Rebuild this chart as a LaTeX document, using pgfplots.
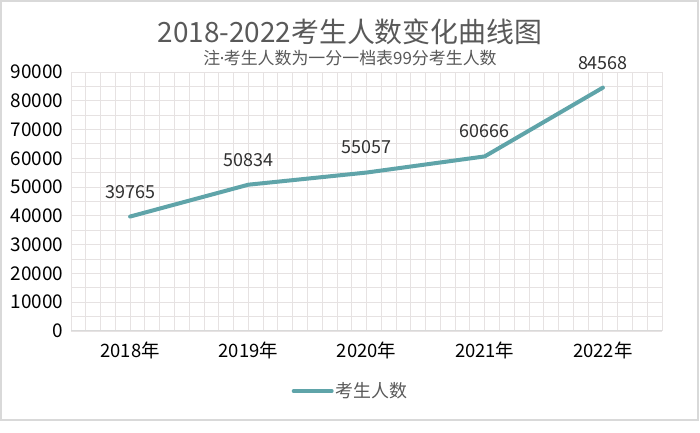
\documentclass[border=0pt]{standalone}
\usepackage{pgfplots}
\pgfplotsset{compat=1.18}
\usepackage{fontspec}
\setmainfont{Noto Sans CJK SC}
\newfontfamily\latinfont{Noto Sans}
\definecolor{txt}{HTML}{595959}
\definecolor{tick}{HTML}{404040}
\definecolor{lab}{HTML}{303030}
\definecolor{teal1}{HTML}{5FA4A9}
\definecolor{gridc}{HTML}{E6E2E2}
\definecolor{framec}{HTML}{D9D9D9}
\begin{document}
\begin{tikzpicture}[x=1bp,y=1bp]
\fill[white] (0,0) rectangle (700,433);
\draw[framec, line width=1.5bp] (1,13) rectangle (698,432);
\node[txt, font=\fontsize{28}{30}\selectfont] at (350,401) {2018-2022考生人数变化曲线图};
\node[txt, font=\fontsize{17}{19}\selectfont] at (350,375) {注{\latinfont\kern-0.5bp·\kern-0.5bp}考生人数为一分一档表99分考生人数};
\begin{axis}[
  at={(71bp,102bp)}, anchor=south west,
  scale only axis, width=591bp, height=259bp,
  xmin=-0.5, xmax=4.5, ymin=0, ymax=90000,
  xtick={0,1,2,3,4},
  xticklabels={2018年,2019年,2020年,2021年,2022年},
  minor xtick={-0.5,-0.375,...,4.5},
  ytick={0,10000,...,90000},
  minor ytick={5000,15000,...,85000},
  grid=both,
  major grid style={gridc, line width=0.9bp},
  minor grid style={gridc, line width=0.9bp},
  major tick length=0pt, minor tick length=0pt,
  axis x line*=bottom, axis y line*=left,
  x axis line style={draw=framec, line width=1bp, -},
  y axis line style={draw=none},
  scaled y ticks=false,
  yticklabel style={/pgf/number format/fixed, /pgf/number format/1000 sep={}, /pgf/number format/assume math mode=true, tick, font=\fontsize{19}{20}\selectfont, xshift=-4bp},
  xticklabel style={tick, font=\fontsize{18.5}{20}\selectfont, yshift=-7bp},
  legend style={at={(0.473,-0.232)}, anchor=center, draw=none, fill=none, font=\fontsize{18}{20}\selectfont, text=txt},
  legend image code/.code={\draw[#1, line width=4bp, line cap=round] (0bp,0bp) -- (38bp,0bp);},
  legend cell align=left,
  nodes near coords,
  nodes near coords style={lab, font=\fontsize{18}{20}\selectfont, /pgf/number format/fixed, /pgf/number format/1000 sep={}, /pgf/number format/assume math mode=true, yshift=13bp},
  clip=false,
]
\addplot[teal1, line width=4bp, line join=round, line cap=round, mark=none] coordinates {
  (0,39765) (1,50834) (2,55057) (3,60666) (4,84568)
};
\addlegendentry{考生人数}
\end{axis}
\end{tikzpicture}
\end{document}
